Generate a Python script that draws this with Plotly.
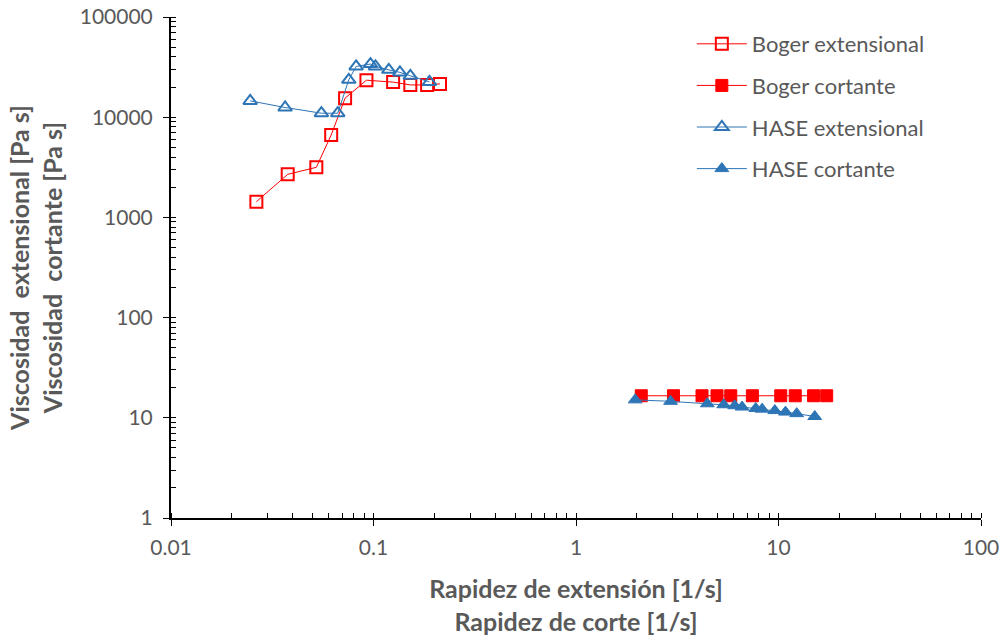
import plotly.graph_objects as go

# Boger fluid, extensional viscosity vs extension rate
boger_ext_rate = [0.0264, 0.0377, 0.0522, 0.0618, 0.0724, 0.0923, 0.125, 0.152, 0.184, 0.213]
boger_ext_visc = [1435, 2690, 3160, 6650, 15500, 23400, 22400, 21000, 21000, 21500]

# Boger fluid, shear viscosity vs shear rate
boger_shear_rate = [2.10, 3.03, 4.19, 4.97, 5.81, 7.43, 10.26, 12.1, 14.9, 17.3]
boger_shear_visc = [16.6, 16.6, 16.6, 16.6, 16.6, 16.6, 16.6, 16.6, 16.6, 16.6]

# HASE fluid, extensional viscosity vs extension rate
hase_ext_rate = [0.0246, 0.0366, 0.0553, 0.0666, 0.0755, 0.0821, 0.0966, 0.1023, 0.119, 0.135, 0.152, 0.189]
hase_ext_visc = [14550, 12500, 10960, 10960, 23600, 32100, 33900, 32100, 29700, 28000, 25900, 22500]

# HASE fluid, shear viscosity vs shear rate
hase_shear_rate = [1.96, 2.93, 4.45, 5.36, 6.08, 6.61, 7.72, 8.30, 9.59, 10.83, 12.3, 15.1]
hase_shear_visc = [15.1, 14.6, 13.8, 13.5, 13.2, 12.8, 12.4, 12.2, 11.8, 11.4, 11.0, 10.3]

x_tickvals = [0.01, 0.1, 1, 10, 100]
x_ticktext = ["0.01", "0.1", "1", "10", "100"]
y_tickvals = [1, 10, 100, 1000, 10000, 100000]
y_ticktext = ["1", "10", "100", "1000", "10000", "100000"]

RED = "#FF0000"
BLUE = "#2E75B6"
GREY = "#595959"
FONT = "Lato"

fig = go.Figure()
fig.add_trace(go.Scatter(
    x=boger_ext_rate, y=boger_ext_visc, name="Boger extensional", mode="lines+markers",
    legendgroup="a", line=dict(color=RED, width=1),
    marker=dict(symbol="square-open", size=12, color=RED, line=dict(width=2, color=RED)),
))
fig.add_trace(go.Scatter(
    x=boger_shear_rate, y=boger_shear_visc, name="Boger cortante", mode="lines+markers",
    legendgroup="b", line=dict(color=RED, width=1),
    marker=dict(symbol="square", size=12, color=RED, line=dict(width=1, color=RED)),
))
fig.add_trace(go.Scatter(
    x=hase_ext_rate, y=hase_ext_visc, name="HASE extensional", mode="lines+markers",
    legendgroup="c", line=dict(color=BLUE, width=1),
    marker=dict(symbol="triangle-up-open", size=12, color=BLUE, line=dict(width=2, color=BLUE)),
))
fig.add_trace(go.Scatter(
    x=hase_shear_rate, y=hase_shear_visc, name="HASE cortante", mode="lines+markers",
    legendgroup="d", line=dict(color=BLUE, width=1),
    marker=dict(symbol="triangle-up", size=12, color=BLUE, line=dict(width=1, color=BLUE)),
))

axis_common = dict(
    automargin=False,
    showgrid=False, zeroline=False, showline=True, linecolor="black", linewidth=2,
    ticks="outside", ticklen=6, tickwidth=1, tickcolor="black",
    tickfont=dict(family=FONT, size=21, color=GREY),
    minor=dict(ticks="inside", ticklen=5, tickwidth=1, tickcolor="black", dtick="D1"),
)

fig.update_layout(
    width=1003, height=636,
    margin=dict(l=171, r=22, t=17, b=118),
    paper_bgcolor="white", plot_bgcolor="white",
    font=dict(family=FONT, color=GREY),
    xaxis=dict(
        type="log", range=[-2, 2], tickvals=x_tickvals, ticktext=x_ticktext,
        ticklabelstandoff=4,
        title=dict(text="<b>Rapidez de extensión [1/s]<br>Rapidez de corte [1/s]</b>",
                   font=dict(family=FONT, size=25, color=GREY), standoff=27),
        **axis_common,
    ),
    yaxis=dict(
        type="log", range=[0, 5], tickvals=y_tickvals, ticktext=y_ticktext,
        ticklabelstandoff=6,
        title=dict(text="<b>Viscosidad  extensional [Pa s]<br>Viscosidad  cortante [Pa s]</b>",
                   font=dict(family=FONT, size=25, color=GREY), standoff=10),
        **axis_common,
    ),
    # inner halves of the major ticks, so that they cross the axis lines
    xaxis2=dict(type="log", range=[-2, 2], overlaying="x", anchor="y", side="bottom",
                tickvals=x_tickvals, showticklabels=False, ticks="inside", ticklen=4,
                tickcolor="black", showgrid=False, zeroline=False, showline=False),
    yaxis2=dict(type="log", range=[0, 5], overlaying="y", anchor="x", side="left",
                tickvals=y_tickvals, showticklabels=False, ticks="inside", ticklen=4,
                tickcolor="black", showgrid=False, zeroline=False, showline=False),
    legend=dict(
        x=0.643, y=0.988, xanchor="left", yanchor="top",
        font=dict(family=FONT, size=22, color=GREY),
        bgcolor="rgba(0,0,0,0)", traceorder="grouped", tracegroupgap=10, itemwidth=50,
    ),
    showlegend=True,
)

fig.write_html("out.html")
